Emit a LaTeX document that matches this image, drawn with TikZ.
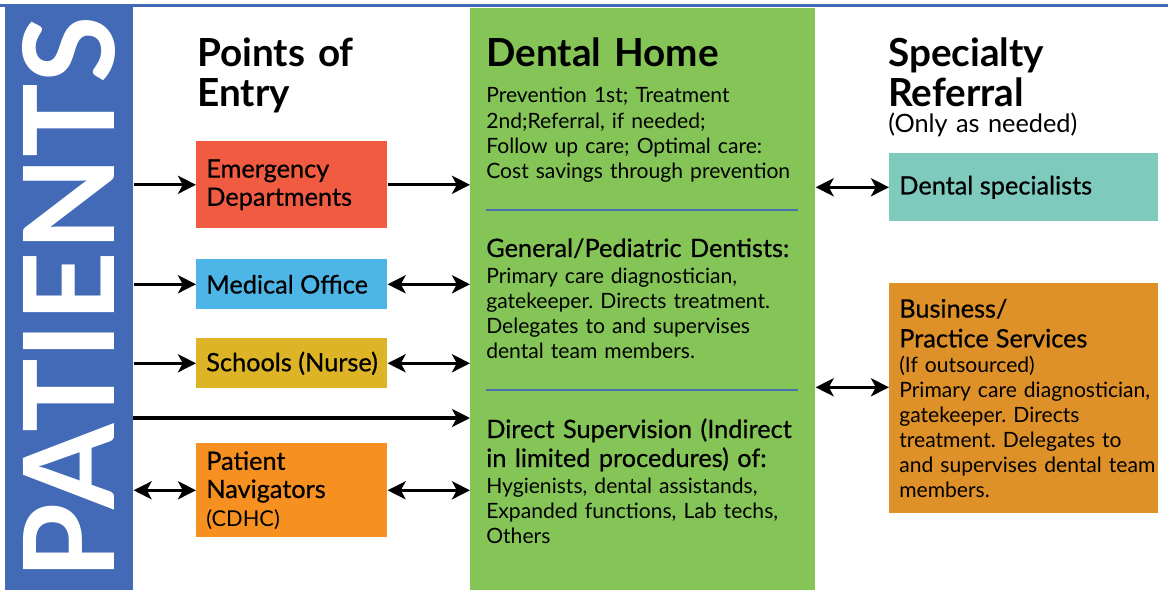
\documentclass[tikz,border=0pt]{standalone}
\usepackage{fontspec}
\setmainfont{Lato}
\newfontfamily\demifont{Lato}[UprightFeatures={FakeBold=0.6}]
\usetikzlibrary{arrows.meta}
\frenchspacing
\definecolor{patblue}{RGB}{66,106,182}
\definecolor{homegreen}{RGB}{133,197,88}
\definecolor{edred}{RGB}{241,91,66}
\definecolor{medblue}{RGB}{77,182,231}
\definecolor{schyellow}{RGB}{221,180,38}
\definecolor{navorange}{RGB}{246,145,33}
\definecolor{specteal}{RGB}{126,203,190}
\definecolor{bizorange}{RGB}{222,145,40}
\definecolor{sepblue}{RGB}{74,112,180}

\begin{document}
\begin{tikzpicture}[
      x=0.025cm, y=-0.025cm,
      panel/.style = {shape=rectangle, anchor=north west, inner sep=0},
      entrytext/.style = {anchor=west, inner sep=0, align=left, font=\demifont\fontsize{18}{20}\selectfont},
      refertext/.style = {anchor=west, inner sep=0, align=left, text width=6.6cm, font=\fontsize{15}{17.8}\selectfont},
      head/.style = {anchor=base west, inner sep=0, align=left, text width=7cm, font=\bfseries\fontsize{27.5}{25.6}\selectfont},
      subhead/.style = {anchor=base west, inner sep=0, align=left, text width=8.2cm, font=\demifont\fontsize{18}{20.6}\selectfont},
      body/.style = {anchor=base west, inner sep=0, align=left, text width=8.2cm, font=\fontsize{15}{17.8}\selectfont},
      sepline/.style = {draw=sepblue, line width=0.05cm},
      arr/.style = {line width=0.08cm, -{Stealth[length=0.45cm, width=0.45cm, inset=0.12cm]}},
      dbl/.style = {line width=0.08cm, {Stealth[length=0.45cm, width=0.45cm, inset=0.12cm]}-{Stealth[length=0.45cm, width=0.45cm, inset=0.12cm]}}
    ]
      \useasboundingbox (0,0) rectangle (1168,590);
      \node[panel, fill=patblue, minimum width=3.2cm, minimum height=14.625cm] (patients) at (5,5) {};
      \node[panel, fill=homegreen, minimum width=8.625cm, minimum height=14.55cm] (home) at (470,8) {};
      \draw[patblue, line width=0.075cm] (0,6) -- (1168,6);
      \node[rotate=90, inner sep=0, text=white] (patlabel) at (69,298) {\resizebox{14.075cm}{2.3cm}{\bfseries PATIENTS}};

      \node[head] (entryhead) at (197,67) {Points of\\[0.1cm]Entry};
      \node[head] (homehead) at (486,67) {Dental Home};
      \node[head] (referhead) at (888,67) {Specialty\\[0.1cm]Referral};
      \node[body, font=\fontsize{18}{20}\selectfont] (refernote) at (888,133) {(Only as needed)};

      \node[panel, fill=edred, minimum width=4.775cm, minimum height=2.175cm] (ed) at (196,141) {};
      \node[panel, fill=medblue, minimum width=4.775cm, minimum height=1.25cm] (med) at (196,259) {};
      \node[panel, fill=schyellow, minimum width=4.775cm, minimum height=1.25cm] (sch) at (196,338) {};
      \node[panel, fill=navorange, minimum width=4.775cm, minimum height=2.35cm] (nav) at (196,443) {};
      \node[entrytext] (edtext) at ([xshift=0.25cm]ed.west) {Emergency\\Departments};
      \node[entrytext] (medtext) at ([xshift=0.25cm]med.west) {Medical Office};
      \node[entrytext] (schtext) at ([xshift=0.25cm]sch.west) {Schools (Nurse)};
      \node[entrytext] (navtext) at ([xshift=0.25cm]nav.west) {Patient\\Navigators\\{\normalfont\fontsize{15.5}{17}\selectfont(CDHC)}};

      \node[body] (homeA) at (486,103) {Prevention 1st; Treatment\\2nd;Referral, if needed;\\Follow up care; Optimal care:\\Cost savings through prevention};
      \draw[sepline] (486,210) -- (798,210);
      \node[subhead] (homeB) at (486,257) {General/Pediatric Dentists:};
      \node[body] (homeBtext) at (486,283) {Primary care diagnostician,\\gatekeeper. Directs treatment.\\Delegates to and supervises\\dental team members.};
      \draw[sepline] (486,390) -- (798,390);
      \node[subhead] (homeC) at (486,438) {Direct Supervision (Indirect\\in limited procedures) of:};
      \node[body] (homeCtext) at (486,493) {Hygienists, dental assistands,\\Expanded functions, Lab techs,\\Others};

      \node[panel, fill=specteal, minimum width=6.725cm, minimum height=1.7cm] (spec) at (889,153) {};
      \node[panel, fill=bizorange, minimum width=6.725cm, minimum height=5.75cm] (biz) at (889,283) {};
      \node[entrytext] (spectext) at ([xshift=0.25cm]spec.west) {Dental specialists};
      \node[refertext] (biztext) at ([xshift=0.25cm]biz.west) {{\demifont\fontsize{18}{17.8}\selectfont Business/\\[0.12cm]Practice Services}\\(If outsourced)\\Primary care diagnostician,\\gatekeeper. Directs\\treatment. Delegates to\\and supervises dental team\\members.};

      \coordinate (walkin) at (133,418);
      \draw[arr] (patients.east |- ed.west) -- (ed.west);
      \draw[arr] (patients.east |- med.west) -- (med.west);
      \draw[arr] (patients.east |- sch.west) -- (sch.west);
      \draw[arr] (walkin) -- (walkin -| home.west);
      \draw[dbl] (patients.east |- nav.west) -- (nav.west);
      \draw[arr] (ed.east) -- (ed.east -| home.west);
      \draw[dbl] (med.east) -- (med.east -| home.west);
      \draw[dbl] (sch.east) -- (sch.east -| home.west);
      \draw[dbl] (nav.east) -- (nav.east -| home.west);
      \draw[dbl] (home.east |- spec.west) -- (spec.west);
      \draw[dbl] ([yshift=0.275cm]biz.west -| home.east) -- ([yshift=0.275cm]biz.west);
    \end{tikzpicture}
\end{document}
